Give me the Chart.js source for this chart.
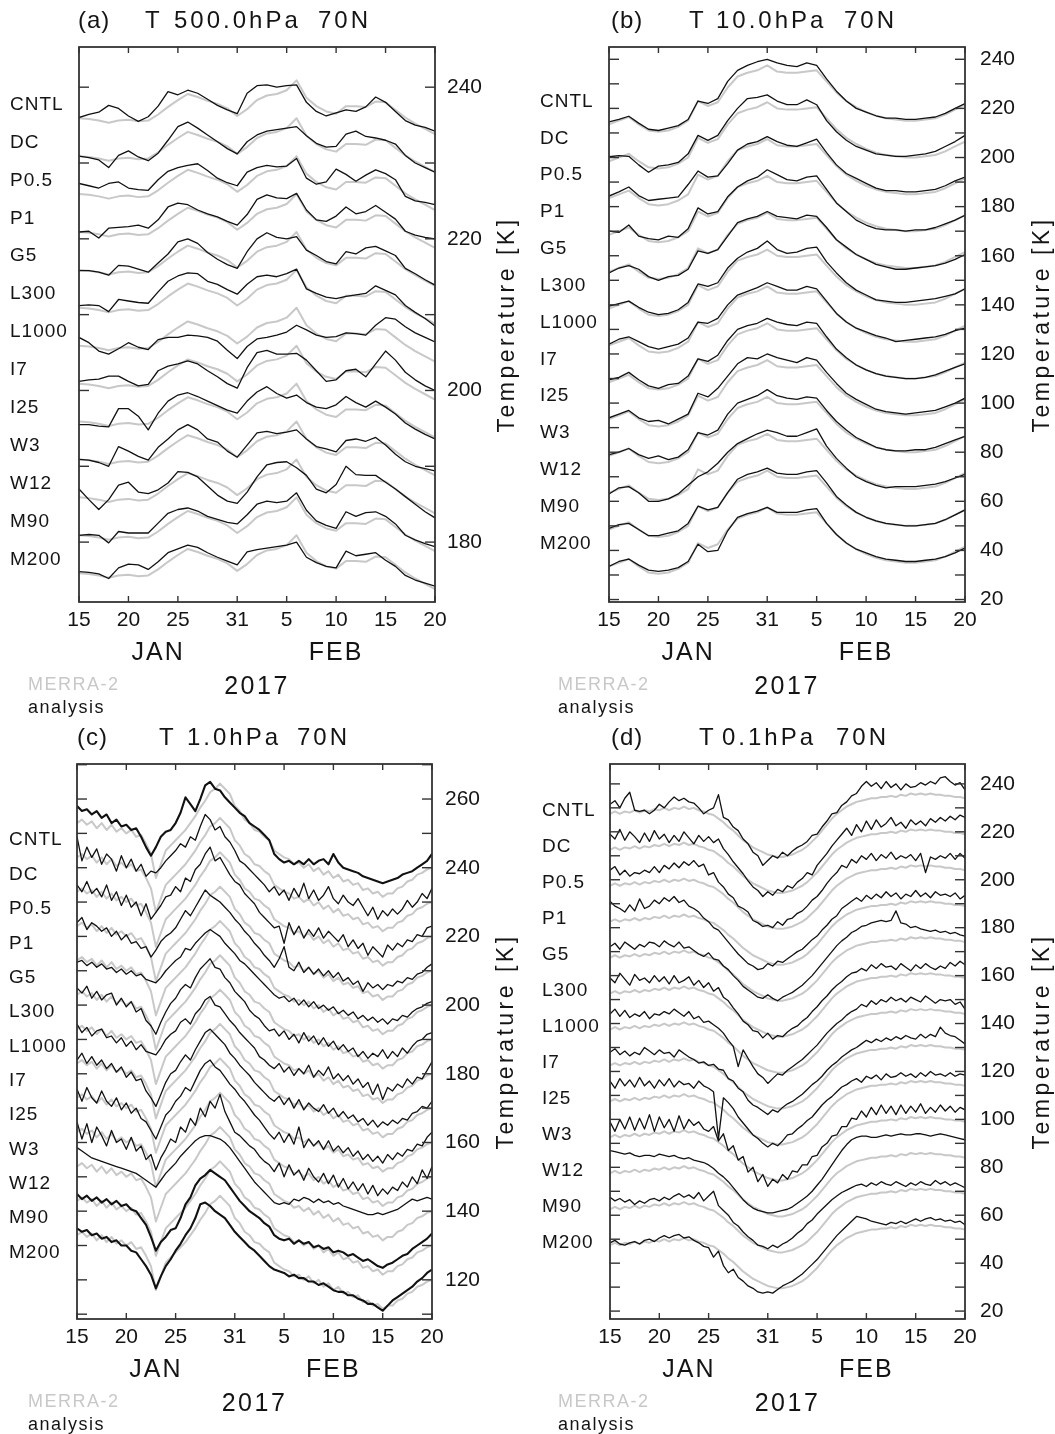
<!DOCTYPE html>
<html><head><meta charset="utf-8">
<script src="https://cdn.jsdelivr.net/npm/chart.js@4.4.1/dist/chart.umd.min.js"></script>
<style>
html,body{margin:0;padding:0;background:#fff;}
body{width:1055px;height:1434px;position:relative;overflow:hidden;}
canvas{position:absolute;}
</style></head><body>
<canvas id="ca" width="527" height="735" style="left:0;top:0"></canvas>
<canvas id="cb" width="528" height="735" style="left:527px;top:0"></canvas>
<canvas id="cc" width="527" height="717" style="left:0;top:717px"></canvas>
<canvas id="cd" width="528" height="717" style="left:527px;top:717px"></canvas>
<script>
// ---------- categories / tick labels ----------
const expNames = ['CNTL','DC','P0.5','P1','G5','L300','L1000','I7','I25','W3','W12','M90','M200'];
const tickDays = [0,5,10,16,21,26,31,36];
const tickLabels = ['15','20','25','31','5','10','15','20'];
const monthNames = ['JAN','FEB'];
const monthDays = [8,26];
const yearLabel = '2017';
const yTicksA = [180,200,220,240];
const yTicksB = [20,40,60,80,100,120,140,160,180,200,220,240];
const yTicksC = [120,140,160,180,200,220,240,260];
const yTicksD = [20,40,60,80,100,120,140,160,180,200,220,240];

// ---------- (a) 500 hPa, daily, Jan15..Feb20 ----------
const merraA = [235.9,235.8,235.6,235.3,235.6,235.7,235.5,235.6,236.4,237.4,238.3,239.1,238.7,238.2,237.8,237.2,236.2,237.1,238.3,238.9,239.1,239.6,240.9,238.6,237.5,236.8,236.5,237.5,237.5,237.4,238.1,238.0,237.0,236.0,235.2,234.5,233.8];
const a_CNTL = [236.0,236.4,236.7,237.6,237.2,236.2,235.5,236.1,237.5,239.4,239.0,239.6,239.2,238.4,237.6,237.0,236.5,239.2,240.2,240.3,240.0,240.2,240.3,238.0,236.8,236.2,236.6,237.0,236.8,237.4,238.7,238.0,236.8,235.6,235.0,234.7,234.2];
const a_DC = [235.9,235.7,235.4,234.4,236.0,236.6,235.8,235.3,236.3,238.0,239.8,240.4,239.6,238.7,237.8,236.9,236.2,237.8,238.7,239.2,239.4,239.6,239.8,238.6,237.6,237.1,237.2,238.8,239.2,238.5,238.3,238.0,237.5,236.0,235.0,234.4,233.8];
const a_P05 = [237.3,237.0,236.7,237.3,237.5,236.7,236.5,236.4,237.8,238.9,239.4,239.7,239.9,239.0,238.0,237.4,237.0,238.8,239.4,239.7,239.5,239.6,240.6,238.0,237.2,237.5,239.2,238.5,237.6,238.4,239.1,238.6,237.8,235.6,235.0,234.8,234.5];
const a_P1 = [235.9,236.0,235.1,236.4,236.5,236.6,236.8,236.4,237.5,239.2,239.7,239.5,238.8,238.3,237.9,237.3,236.8,238.2,240.2,240.8,240.4,240.3,241.0,238.8,237.5,237.3,238.0,239.2,238.3,238.6,239.4,238.5,237.6,236.0,235.5,235.2,235.0];
const a_G5 = [235.8,235.8,235.6,235.2,236.5,236.4,236.0,235.6,236.8,238.0,239.6,240.0,239.4,238.2,237.3,236.6,236.1,238.3,240.0,240.8,240.2,240.0,240.3,238.5,237.8,237.0,236.7,238.3,238.0,238.8,239.0,238.4,237.8,236.1,235.4,234.6,233.9];
const a_L300 = [236.2,236.3,236.2,235.4,237.0,236.8,236.6,236.5,238.0,239.4,240.1,240.5,240.4,239.4,239.0,238.3,237.7,239.0,240.0,240.2,240.0,240.4,241.0,238.4,237.8,237.3,237.1,237.4,237.6,237.8,238.8,238.2,237.6,236.2,235.3,234.5,233.5];
const a_L1000 = [237.0,236.3,235.2,234.8,235.5,236.3,235.7,235.4,236.7,237.0,237.0,237.3,237.2,237.0,236.5,235.3,234.2,235.8,236.8,237.0,237.3,237.7,238.6,238.0,237.3,237.0,237.1,237.6,237.5,237.3,238.6,239.6,239.4,238.4,237.6,237.0,236.4];
const a_I7 = [236.2,236.4,236.5,236.9,236.9,236.2,235.6,235.8,237.6,238.2,238.5,238.9,238.5,237.6,236.8,235.9,235.3,238.0,240.0,240.3,239.8,239.8,239.9,239.0,237.6,236.2,236.4,237.6,237.8,236.8,238.5,240.2,239.0,237.4,236.4,235.6,235.0];
const a_I25 = [235.5,235.5,235.3,235.2,237.6,237.6,236.6,234.8,237.0,238.6,239.4,239.7,239.2,238.6,238.0,237.4,237.0,238.6,239.8,240.5,239.6,239.0,239.4,238.4,237.8,237.6,238.1,239.2,238.4,237.8,238.6,237.8,236.9,235.7,234.9,234.2,233.6];
const a_W3 = [235.9,235.8,235.5,235.0,237.6,237.0,236.3,235.8,237.5,238.6,239.8,240.5,239.8,238.6,238.2,237.0,236.2,237.8,239.4,239.6,239.3,239.5,239.8,238.6,237.6,237.3,236.9,238.4,238.6,238.3,238.8,237.8,236.6,235.6,235.0,234.7,234.4];
const a_W12 = [237.0,235.6,234.3,235.6,237.5,237.9,236.6,236.4,236.9,237.8,239.3,239.2,238.6,237.4,236.2,235.4,235.1,236.6,238.6,240.2,240.5,240.6,239.8,238.8,237.0,236.5,237.6,240.0,238.9,238.8,238.8,237.9,237.0,236.0,235.0,234.0,233.2];
const a_M90 = [235.9,236.0,235.9,234.9,236.4,236.2,236.2,236.2,237.5,238.8,239.3,239.5,239.1,238.4,238.0,237.6,237.4,238.6,240.0,240.4,240.2,240.4,241.5,239.2,237.8,237.2,236.8,239.0,238.4,238.9,239.0,238.4,237.4,235.9,235.3,234.8,234.4];
const a_M200 = [236.1,236.0,235.8,235.2,236.6,237.1,237.0,236.4,237.4,238.6,239.1,239.6,239.3,238.6,238.0,237.5,237.0,238.7,239.0,239.2,239.4,239.6,240.0,238.0,237.3,236.8,236.6,238.8,238.2,238.4,238.6,237.6,236.8,235.6,235.0,234.6,234.2];

// ---------- (b) 10 hPa, daily ----------
const merraB = [213.5,215,216.5,213.5,211,210.5,211,212.5,215,223,221,222.5,228.5,233,234.5,235.5,237.5,235,234.5,234.5,235,235.5,231,226.5,223,220.5,218.5,217,216,215.5,215,215,215.5,216,217.5,219.5,221.5];
const b_CNTL = [214.5,215.5,216.8,214,211.5,211,212,213,215.5,223,222,224,231,235.5,237.5,239,240,238.5,237.5,237,238.5,237.5,232,227,223,220,218.5,217,216,216,215.5,215.5,216,216.5,218,220,222];
const b_DC = [215.3,215.8,215.5,212,209,211.5,212,213,216.5,224,222,224,230,235,239,239.5,240.5,238,236.5,236.5,238.5,236.5,230,225.5,222,219.5,218,216.5,216,215.5,215.5,216,216.5,217.5,219.5,221.5,224];
const b_P05 = [214.3,216,218,214.5,212.5,213,213.5,214,219,224.5,222,222.5,227.5,233,235.5,236.5,238.5,236.5,235,234.5,236,237.5,232,227,223.5,221.5,219.5,217.5,216.5,216.5,216,216,216.5,217,218.5,220.5,222];
const b_P1 = [215,214.5,217.5,213,212,211.5,213,212.5,216,224.5,222,223,229,233,235.5,237,240,238,236,235.5,237,237.5,232,226.5,223,219.5,217.5,216,215.5,215.5,215,215.5,215.5,216.5,218,219.5,221.5];
const b_G5 = [213,215,216,214.5,211.5,210,211.5,212,214.5,222,221,222.5,228,233.5,235,236,238,236,235.5,235,236.5,236,231.5,226.5,223.5,220.5,218.5,216.5,215.5,214.5,214.5,215,215.5,216,217,218.5,220.5];
const b_L300 = [214.5,215.5,216.5,214,212,211,211.5,213,216,223.5,222.5,224,230,234,236.5,238,241,237.5,236,236.5,238,238.5,232.5,228,224,221,219,217,216.5,216,216,216.5,217,217.5,218.5,219.5,221.5];
const b_L1000 = [214,216,217,215,213,212,213,214,216.5,223,222.5,224.5,230,234,235.5,237,239,237.5,236,236,237.5,236.5,231.5,226.5,223,220.5,219,217.5,216.5,215,215.5,216,216.5,217,218,219.5,220.5];
const b_I7 = [214.5,215.5,217.5,214.5,212,211,212.5,213,216,223,222,224.5,230.5,235,236.5,237.5,239.5,238,237,236.5,238,237.5,232,227,223.5,220.5,218.5,217,216,215.5,215,215,215.5,216.5,218,219.5,221];
const b_I25 = [214,215.5,217,214,212.5,213,211.5,213.5,215.5,224,222.5,226,231,236,238.5,238,240,238.5,237.5,236.5,238.5,237.5,232.5,228,224,221.5,219.5,217.5,216.5,216,215.5,216,216.5,217,218.5,220,222];
const b_W3 = [214,215,216.5,214,212.5,213.5,212,213,216,223,222,224,230.5,235,236.5,238,240.5,238,237,236.5,237.5,237,232,227.5,224,221,219,217,216,215.5,215.5,216,216,217,218.5,220,221.5];
const b_W12 = [213,215.5,216,213.5,210,210,211,213,216.5,220,222,225.5,230,233.5,235.5,237.5,239,238,236.5,236.5,238,239.5,232.5,227.5,223.5,220,218,216.5,215.5,216,216,216,216.5,217,218,219.5,221];
const b_M90 = [214,215.5,216,213.5,211,211,212,213,216,223,221.5,222.5,228.5,234,236,237,238.5,236.5,236,236,237,237.5,232.5,227,223.5,220.5,218.5,217,216,215.5,215,215,215.5,216,217.5,219.5,221.5];
const b_M200 = [213.5,215.5,216.5,214,212,211.5,212,213,215.5,222.5,219.5,220,228,233.5,235,236,237.5,235.5,235.5,235.5,236.5,237,231,226.5,223,220.5,219,217.5,216.5,216,215.5,215.5,216,216.5,217.5,219,221];

// ---------- (c) 1 hPa, 12-hourly ----------
const merraC = [253,254,252.5,253.5,251.5,253,251,252.5,250.5,251.5,250,251,249,249.5,247,244,237,241,245,246.5,248,249.5,251,253,255,257.5,259.5,262,263,264.5,263,261.5,258,256.5,254,253,251,250.5,249,248,245,244,243,242.5,241,241.5,240,241,239,240,238,239,237,238,236,236.5,235,235.5,233.5,234,232.5,233,231.5,232.5,232.5,234,234.5,236,236.5,238,238.5,239.5,240];
const c_CNTL = [258,256.5,257,255.5,256.5,254.5,255.5,253,254,252,252.5,251,251.5,249,246,243.5,246,249,250.5,251,253,256,260.5,258.5,256.5,260,264,265,263,262.5,260.5,259,257.5,256,255,253,252,251,249.5,248,244,242.5,241.5,242,241,242,241,242.5,241,242,242.5,241,244,241.5,240,239.5,239,238.5,237.5,237,236.5,236,235.5,236,236.5,237,238,238.5,239,240,241,242,244];
const c_DC = [259,252,256,253,255.5,251,254,252.5,249,253.5,250,252.5,249,251,247.5,249,248.5,250,252,253.5,255,257,256,259,258,262,265.5,264,261,262,259,257.5,255,252,251,249.5,248,246.5,245,243,244.5,242,243.5,240.5,244,241.5,245.5,241,243.5,240.5,242,244.5,241,239.5,242,240,239,241,238.5,236,238.5,235,237.5,236,238,236.5,238,240.5,238.5,240,242.5,241,244];
const c_P05 = [255,253,256,252.5,254,251.5,255,250.5,253,249,252,248.5,250,246,249.5,245,247,249,251.5,252,254.5,253,257,256,259.5,261,264,266,262,263,260.5,258,256,255,252.5,251,249.5,247,245.5,244,242.5,243,238,244,240.5,243,239.5,242,240,242.5,239.5,241.5,240,238.5,240.5,237,239,236.5,238,234.5,237,235.5,234,237.5,236,238,237,239,238.5,240.5,240,242.5,243];
const c_P1 = [254,255.5,252,254,253,251.5,252.5,250,251.5,249,250.5,248,248.5,246.5,247,244,246,248.5,250,251,252.5,255,257.5,256,258.5,261,263.5,262,261,260,258.5,257,255,253.5,251.5,250,248,246.5,244.5,243,241,243.5,247,241,240,242.5,239.5,241,239,240.5,238.5,240,238,239.5,237,238,236,237,234,236.5,235,236,234.5,236,235.5,237,236.5,238,237.5,239,239.5,241,242];
const c_G5 = [252.5,253,251.5,252.5,251,252,250.5,251,249.5,250.5,249,250,248.5,249,247.5,247,246.5,248,250,251.5,253,254,256.5,256,258,259.5,261,262,261,260,258,256.5,255,253,252,250.5,249,247.5,246,244.5,243,242,242.5,241,242,240,241.5,239.5,241,239,240,238.5,239.5,237.5,238.5,237,238,236,237,235.5,236.5,235,236,234.5,236,235.5,237,236.5,238,239,239.5,240.5,241];
const c_L300 = [255,253.5,255.5,252,254,251.5,253,253.5,250,252,249.5,251,248,249,245.5,244,241.5,245,248,250.5,252,254.5,256,255,258,260.5,262,263.5,261,260.5,258,256.5,254,252.5,251,248.5,247,246,244,242.5,243,241,242.5,240,241.5,239,242,239.5,241,238.5,240.5,238,239.5,237,238.5,236.5,237.5,235,236.5,234.5,236,235,237,234.5,236.5,235,237.5,236,238,239.5,240,241.5,242];
const c_L1000 = [254.5,252,253.5,251,252.5,253,250.5,251,249,250.5,248,249.5,247,248.5,246.5,246,245.5,247.5,250,251.5,252.5,255,256,254.5,257.5,259,261.5,262.5,260,259.5,257.5,255.5,254,252,250.5,249,247.5,245,244,242.5,241.5,243,240.5,242,239.5,241.5,240,242.5,239,241,239.5,242,238.5,240,238,239.5,237,238.5,236,237.5,234,237,232.5,236,235,237,236,238.5,237,239,238.5,241,243.5];
const c_I7 = [254,256,253,255,252.5,254,251.5,253,250.5,252,249,250.5,248,248.5,245,243,240.5,244,247.5,250,251,253.5,255.5,254,257,259.5,262,263,261.5,260,258.5,256,254.5,252.5,251,249.5,247.5,246,244.5,243,242,243.5,241,243,240,242.5,239.5,241.5,240,239,241,238.5,240,237.5,239,237,238,236,237,235,236.5,234.5,236,235,236.5,235.5,237,236.5,238.5,239,240.5,240,242];
const c_I25 = [255.5,252,256,253,251.5,255,252,250.5,253,249.5,251.5,248.5,250,247,246,243.5,241,244.5,248,249.5,252,253.5,256,255,258,261,263,264,262,261,259,257,255.5,253.5,252,250,248,246.5,244.5,242.5,241,243,240,242.5,239.5,244.5,238.5,241,239,240.5,238,240.5,237.5,239,237,238.5,236,237.5,235,236.5,234.5,236,234,236.5,235,237,236,238,237.5,239.5,239,241.5,243];
const c_W3 = [256,251,255.5,250,254.5,252,249,253.5,250,251,248,251.5,247.5,249,245,246.5,242,245.5,248,251,250,254.5,253,257,255,260,257.5,262,260,264,259,256,253,252,250.5,249,248,246,244.5,243.5,241.5,244,240,243.5,240.5,242,239,242.5,240,238.5,241,238,240.5,237,239.5,236.5,238.5,236,238,235,237.5,234.5,236.5,235,237,236,238.5,237,240,238,242,239.5,243];
const c_W12 = [258.5,257.5,256.5,255.5,255,254.5,254,253.5,253,252.5,252,251.5,251,250,249,248,247,249,251,252.5,254,256,257.5,259,260.5,261.5,262,262,261.5,261,260,258.5,256.5,254.5,252.5,250.5,248.5,247,245.5,244,242.5,242,242.5,242,243.5,243,244,243.5,242.5,243.5,242.5,243,242,242.5,241.5,241,240.5,240,239.5,239,239,239.5,239,239.5,240,240.5,241.5,242.5,243.5,243,243.5,244,243.5];
const c_M90 = [255,253.5,254.5,253,254,252.5,253.5,252,253,251.5,252,250.5,250,248,246,242.5,238.5,241,242.5,244.5,245,248,252,254,257.5,259.5,260.5,262,261,260,259,257,255,253,251.5,250,249,248,246.5,245.5,243,242,241.5,242,240.5,241.5,240.5,241,239.5,240,239,239.5,238,238.5,238,237,237.5,236.5,235.5,236,235,234,233.5,234.5,235,236,237,237.5,239,240,241,242,243.5];
const c_M200 = [255,254,254.5,253,253.5,252,252.5,251,251.5,250,250,248.5,248,246,244,241.5,237.5,241,244,246,248.5,250.5,253,255,258,262,262.5,261.5,260,259,258,256,254,252.5,251,249.5,248.5,247,245.5,244,243,242.5,242,241,241.5,240.5,240.5,239.5,239.5,238.5,239,238,237,236.5,236.5,235.5,235.5,234.5,234,233,233,232,231,232.5,234,235,236,237,238,239.5,240.5,242,243];

// ---------- (d) 0.1 hPa, 12-hourly ----------
const merraD = [227.5,228.5,227.5,228.5,228,229,228,229,228.5,229.5,229,230,229,230,229.5,230.5,229.5,230,229,228.5,227.5,227,225.5,224,222,220.5,218.5,216.5,215,213.5,212.5,211.5,210.5,210,209.5,209.5,210,210.5,211.5,212.5,214,216,218,220.5,223,225.5,227.5,229,230.5,231.5,232.5,233,233.5,234,234,234.5,234.5,235,234.5,235.5,235,236,235.5,236,235.5,236,235.5,235.5,235,235,234.5,234.5,234];
const d_CNTL = [231.5,233,230,234,236.5,229,228.5,229,227.5,229,231.5,230,232.5,234.5,233,234,232.5,232,230,227.5,229,230,235.5,226,225,222,220.5,217,215,211.5,210,206,208,210,209,211.5,210,212,213.5,214.5,216,218.5,219,222,224.5,227.5,228,231,232.5,235,236,239,241,239,240.5,238,241,238.5,240,237.5,240,238.5,239,240.5,239.5,241,240,242.5,243,241,239.5,240.5,237.5];
const d_DC = [234,232,236,231.5,235,233,230.5,234.5,231,235.5,232,234,230.5,233.5,231,235,232.5,230,233.5,231,233,230.5,232,228,225.5,222.5,220,217.5,214.5,212,210.5,208,210,208.5,211,210,212.5,211.5,214,215.5,218,217,221,223.5,226,229,231.5,234,236.5,233.5,238,235,239.5,236,240,237,238.5,241,237.5,239,236.5,240,238,239.5,237.5,240.5,239,241,239.5,241.5,240,242,241];
const d_P05 = [234,235.5,232,234,231.5,233,232.5,234,233,235.5,233,236,234.5,237,235,237.5,236,238,235.5,236.5,232,233,229,227,224,222.5,219,218,216.5,213,212,210.5,211,210,212.5,211,213.5,214,216,217,219,221.5,223,225.5,228.5,231,233,236,235,238.5,237,240,238.5,241,238,240.5,239,241.5,238.5,240,239,240.5,238,241,233,239.5,238.5,240,239,241,238.5,241,239];
const d_P1 = [236,234,233,231.5,234.5,232,237,233,234,236.5,235,237.5,236,238,235.5,236.5,234,233,231.5,229,227.5,225,224,221.5,219,216.5,214,212,210,209,207.5,208,210,209,211,210.5,212,213.5,215,216,218,220,221.5,224,226,228.5,230,233,234.5,236,237.5,236,238.5,237,239,237.5,240,238,239.5,237,239,238,240.5,238,239.5,237.5,240,238.5,239,238,239.5,237,238.5];
const d_G5 = [232,233.5,231,234,232.5,231,233,232,234,233.5,232,234.5,233,232,234,231.5,232,230.5,229,228,229.5,227,226.5,224,222.5,220,218,215.5,214,212.5,211,210.5,212,210.5,209.5,211,212,213,214.5,216,218,220,222.5,225,227.5,230,232.5,234.5,236,238,239,240.5,241,242,242.5,243,242.5,243,247,242,241.5,240,240.5,239.5,239,238.5,239,238,238.5,237.5,238,237,236.5];
const d_L300 = [234,232,236,233.5,231,235.5,233,234,232,235,232.5,234.5,231.5,235,232,233,234.5,231,233,230,232,228.5,230,226,224.5,221.5,219,216,214.5,212,211.5,209,211,208.5,210,209.5,211.5,213,214,216,217.5,220,222,224.5,226.5,229,231,232.5,234.5,236,236.5,238,237,239.5,238,240,238.5,239,237.5,240,238.5,237,239.5,238,240,238.5,237.5,239,238,240.5,239,241,239.5];
const d_L1000 = [234,236,233,235.5,232.5,234,233,235,232,234,233.5,235,234,236,234.5,233,235,232,233,230.5,231,229.5,228,226,223,220.5,212,219,215.5,212,209,207.5,205,207,209,208.5,210.5,212,213.5,215,217,219,221,223.5,226,228,230,231.5,233.5,235,236,238,237,239.5,238,240,239,241,239.5,240.5,239,241,240,239,241.5,240,238.5,240,239.5,240,238,239,236];
const d_I7 = [233,234.5,232,233.5,231.5,233,232,235,233.5,232,234,232.5,233,231,234,232.5,231,230,228.5,229,227.5,228,226,225.5,222,221,218,216.5,213,211,210,208.5,207,209,208,210,211.5,212.5,214,215.5,217.5,219.5,221,223,225.5,227.5,229,231,232.5,234,235,236.5,238,237,238.5,237.5,239,238,239.5,238.5,240,239,238.5,240.5,239,240.5,239.5,243.5,241,240,239.5,238,236.5];
const d_I25 = [236,233,237,234,236.5,233.5,237.5,234,236,233,236.5,234,237,233.5,236,234.5,235,233,236,234,233,231.5,212,229,227,224.5,221,218.5,216,213.5,212,210,208.5,210,209,211,213.5,214,216,217.5,219.5,221,223.5,226,228,229.5,231.5,233.5,234.5,236,237,235.5,238,237,238.5,236.5,239,237.5,238,239.5,238,239,237.5,239.5,238,240,238.5,239,238,239.5,238,239,238.5];
const d_W3 = [234,230,235,231,236,230.5,235.5,231,237,230,236,231.5,235,230,236.5,231,235,232.5,234,231,230,232,226,229,222,224,218,219.5,213,215,209,212,207,210,208.5,212,210,213.5,213,216,216,219.5,220,223.5,225,228,228.5,232,232,235.5,235,238.5,236,240,237,241,237.5,240.5,237,241,237.5,240.5,238,241.5,237.5,240,238,241,238.5,240.5,238,240,239];
const d_W12 = [237,236.5,236,235.5,236,235,234.5,235,235,234.5,235.5,235,234.5,235,234,233.5,234,233,232.5,232,231,229.5,227.5,226,224,221.5,219,216.5,214.5,213,212,211.5,211,211,211.5,212,212.5,213.5,215,216.5,218,220,222.5,225,228,231,234,237,239.5,241.5,242.5,243,243,242.5,242.5,243,243.5,243,243.5,244,243.5,243.5,244,244,243.5,243,243.5,244,243.5,243,242.5,242,241.5];
const d_M90 = [232.5,231,232,230.5,231.5,229.5,231,230,231.5,232,231,232.5,231.5,233,234,232.5,233.5,232,234.5,231,233,235,229,227,225,222,220.5,218,216,214.5,212.5,212,211,212.5,211.5,213,214,215.5,217.5,219,221.5,223,225.5,227.5,229.5,231.5,233,234.5,235.5,236.5,237.5,238,237,238.5,237.5,239,238,237.5,239,238,237,238.5,237.5,239,238,237.5,239.5,238,239,237.5,238.5,237.5,236.5];
const d_M200 = [228.5,229.5,228,227.5,228.5,229,228,229.5,230,229,230.5,231.5,230.5,231.5,232,230.5,231,229.5,228.5,227,226.5,222.5,225,219,216,217.5,214,212.5,210.5,209.5,208,207.5,208,207.5,209,210.5,211.5,212.5,214,215.5,217.5,219.5,221.5,224,226.5,229,231.5,233.5,235.5,237.5,239.5,239,238.5,237.5,237,236.5,236,237,236.5,237.5,236.5,237.5,238.5,237.5,238.5,239,238,238.5,237.5,238,237,237.5,236];

// ---------- drawing ----------
const FONT = '"Liberation Sans", Arial, sans-serif';
const INK = '#141414';
function txt(ctx, s, x, y, size, color, align, sp) {
  ctx.save();
  ctx.font = size + 'px ' + FONT;
  ctx.fillStyle = color;
  ctx.textAlign = align || 'left';
  ctx.textBaseline = 'middle';
  if ('letterSpacing' in ctx) ctx.letterSpacing = (sp || 0) + 'px';
  ctx.fillText(s, x, y);
  ctx.restore();
}
function seg(ctx, x1, y1, x2, y2) { ctx.beginPath(); ctx.moveTo(x1, y1); ctx.lineTo(x2, y2); ctx.stroke(); }

function makeFrame(cfg) {
  return {
    id: 'frame',
    afterDraw(chart) {
      const ctx = chart.ctx, a = chart.chartArea, xs = chart.scales.x, ys = chart.scales.y;
      ctx.save();
      ctx.strokeStyle = '#333';
      ctx.lineWidth = 1.4;
      tickDays.forEach(d => {
        const px = xs.getPixelForValue(d);
        seg(ctx, px, a.bottom, px, a.bottom - 6);
        seg(ctx, px, a.top, px, a.top + 6);
      });
      for (let v = Math.ceil(ys.min / 10) * 10; v <= ys.max + 0.01; v += 10) {
        const py = ys.getPixelForValue(v);
        seg(ctx, a.left, py, a.left + 10, py);
        seg(ctx, a.right, py, a.right - 10, py);
      }
      ctx.lineWidth = 1.8;
      ctx.strokeRect(a.left, a.top, a.right - a.left, a.bottom - a.top);
      ctx.restore();
      // row labels
      expNames.forEach((n, i) => {
        txt(ctx, n, cfg.labX, ys.getPixelForValue(cfg.labTop - i * cfg.step), 19, INK, 'left', 1);
      });
      // title
      cfg.title.forEach(t => txt(ctx, t[0], t[1], 21, 24, INK, 'left', t[0].startsWith('(') ? 1 : 3));
      // months and year
      monthNames.forEach((m, k) => txt(ctx, m, xs.getPixelForValue(monthDays[k]), 653, 25, INK, 'center', 2));
      txt(ctx, yearLabel, (a.left + a.right) / 2, 687, 25, INK, 'center', 2.5);
      // legend
      txt(ctx, 'MERRA-2', cfg.legX, 685, 18, '#c8c8c8', 'left', 1.5);
      txt(ctx, 'analysis', cfg.legX, 708, 18, INK, 'left', 1.5);
      // y axis title
      ctx.save();
      ctx.translate(cfg.tX, (a.top + a.bottom) / 2);
      ctx.rotate(-Math.PI / 2);
      txt(ctx, 'Temperature [K]', 0, 0, 23, INK, 'center', 3.5);
      ctx.restore();
    }
  };
}

const panels = [
  {id:'ca', H:735, merra:merraA, ana:[a_CNTL,a_DC,a_P05,a_P1,a_G5,a_L300,a_L1000,a_I7,a_I25,a_W3,a_W12,a_M90,a_M200],
   dt:1, step:5, ymin:172.1, ymax:245.3, yTicks:yTicksA, padL:79, yW:92, yPad:12, labX:10, labTop:237.7,
   title:[['(a)',78],['T',145],['500.0hPa',174],['70N',318]], tX:508, legX:28, thick:[]},
  {id:'cb', H:735, merra:merraB, ana:[b_CNTL,b_DC,b_P05,b_P1,b_G5,b_L300,b_L1000,b_I7,b_I25,b_W3,b_W12,b_M90,b_M200],
   dt:1, step:15, ymin:19.0, ymax:245.0, yTicks:yTicksB, padL:82, yW:90, yPad:15, labX:13, labTop:222.8,
   title:[['(b)',84],['T',162],['10.0hPa',189],['70N',317]], tX:516, legX:31, thick:[]},
  {id:'cc', H:717, merra:merraC, ana:[c_CNTL,c_DC,c_P05,c_P1,c_G5,c_L300,c_L1000,c_I7,c_I25,c_W3,c_W12,c_M90,c_M200],
   dt:0.5, step:10, ymin:108.6, ymax:270.2, yTicks:yTicksC, padL:77, yW:95, yPad:13, labX:9, labTop:248.0,
   title:[['(c)',77],['T',159],['1.0hPa',187],['70N',297]], tX:507, legX:28, thick:[0,11,12]},
  {id:'cd', H:717, merra:merraD, ana:[d_CNTL,d_DC,d_P05,d_P1,d_G5,d_L300,d_L1000,d_I7,d_I25,d_W3,d_W12,d_M90,d_M200],
   dt:0.5, step:15, ymin:16.7, ymax:248.3, yTicks:yTicksD, padL:83, yW:90, yPad:15, labX:15, labTop:228.7,
   title:[['(d)',84],['T',172],['0.1hPa',195],['70N',309]], tX:516, legX:31, thick:[]}
];

panels.forEach(cfg => {
  const datasets = [];
  cfg.ana.forEach((arr, i) => {
    datasets.push({
      data: arr.map((v, k) => ({x: k * cfg.dt, y: v - i * cfg.step})),
      borderColor: '#111', borderWidth: cfg.thick.includes(i) ? 2.1 : 1.3, order: 0
    });
  });
  cfg.ana.forEach((arr, i) => {
    datasets.push({
      data: cfg.merra.map((v, k) => ({x: k * cfg.dt, y: v - i * cfg.step})),
      borderColor: '#c8c8c8', borderWidth: 2, order: 1
    });
  });
  new Chart(document.getElementById(cfg.id), {
    type: 'line',
    data: {datasets},
    options: {
      responsive: false, animation: false, devicePixelRatio: 1, events: [],
      parsing: false, normalized: true,
      layout: {padding: {left: cfg.padL, top: 47, right: 0, bottom: 0}},
      plugins: {legend: {display: false}, tooltip: {enabled: false}, title: {display: false}},
      elements: {point: {radius: 0}, line: {tension: 0, borderJoinStyle: 'round', fill: false}},
      scales: {
        x: {
          type: 'linear', min: 0, max: 36, position: 'bottom',
          grid: {display: false, drawTicks: false}, border: {display: false},
          ticks: {autoSkip: false, maxRotation: 0, minRotation: 0, padding: 6, color: INK,
                  font: {family: FONT, size: 21}, callback: (v, i) => tickLabels[i]},
          afterBuildTicks: s => { s.ticks = tickDays.map(v => ({value: v})); },
          afterFit: s => { s.height = cfg.H - 602; }
        },
        y: {
          type: 'linear', position: 'right', min: cfg.ymin, max: cfg.ymax,
          grid: {display: false, drawTicks: false}, border: {display: false},
          ticks: {padding: cfg.yPad, color: INK, font: {family: FONT, size: 21}, autoSkip: false},
          afterBuildTicks: s => { s.ticks = cfg.yTicks.map(v => ({value: v})); },
          afterFit: s => { s.width = cfg.yW; }
        }
      }
    },
    plugins: [makeFrame(cfg)]
  });
});
</script>
</body></html>
